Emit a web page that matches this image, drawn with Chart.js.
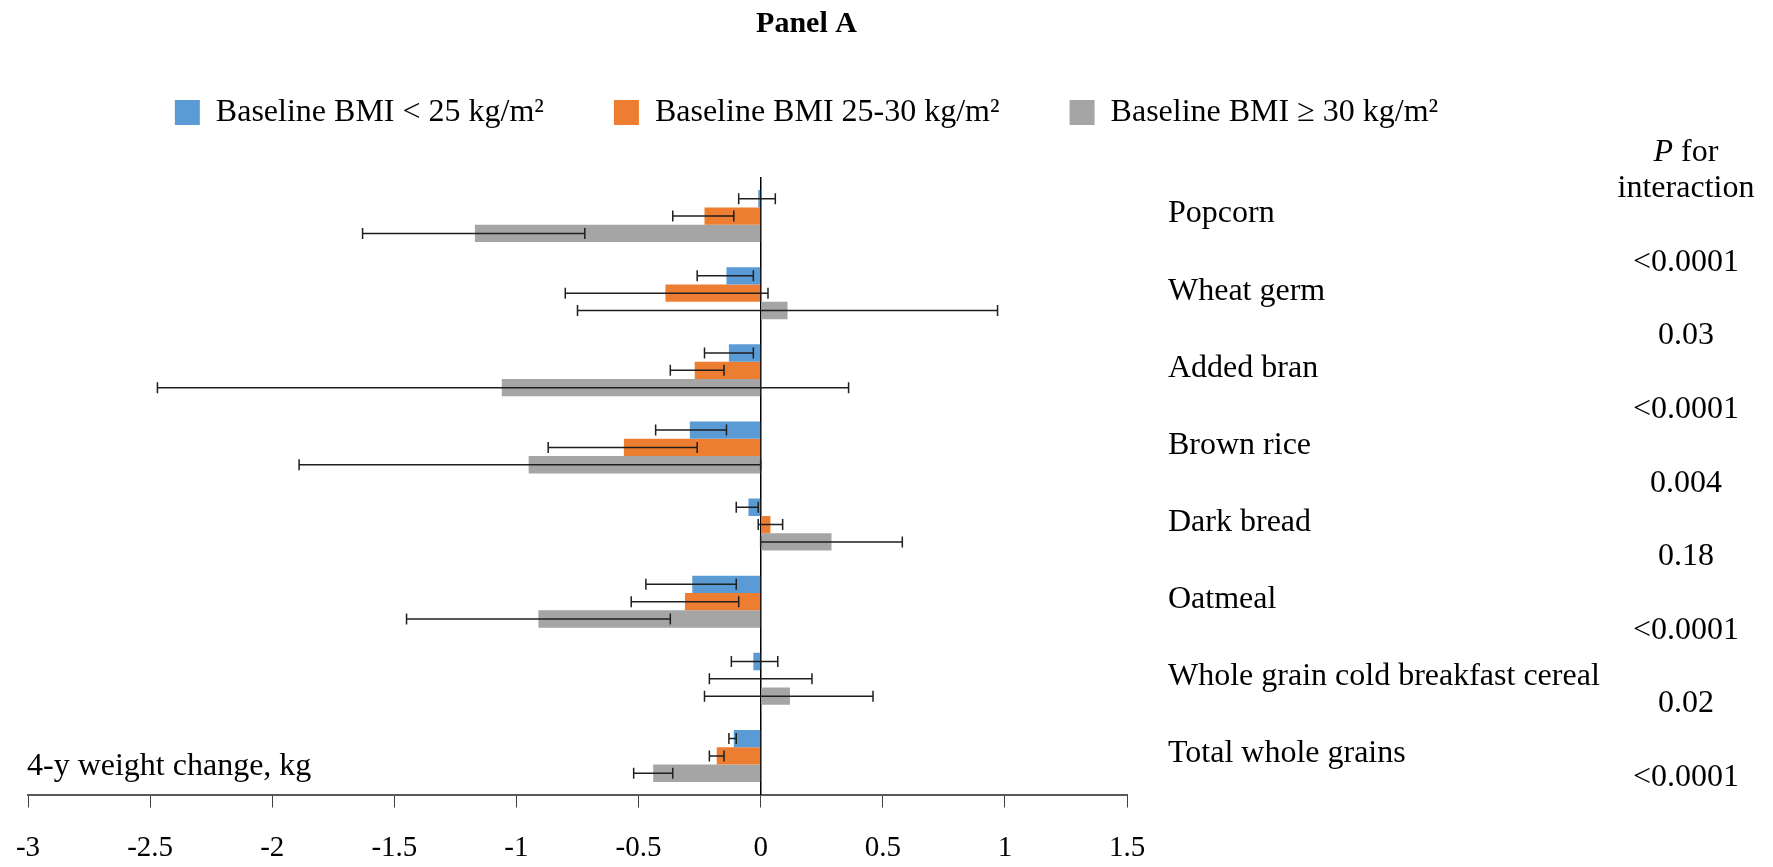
<!DOCTYPE html>
<html>
<head>
<meta charset="utf-8">
<script src="https://cdn.jsdelivr.net/npm/chart.js@4.4.1/dist/chart.umd.min.js"></script>
<style>
  html, body { margin: 0; padding: 0; background: #ffffff; }
  #wrap { width: 1773px; height: 867px; }
</style>
</head>
<body>
<div id="wrap"><canvas id="c" width="1773" height="867"></canvas></div>
<script>
// ---------------- data ----------------
const categories = [
  'Popcorn', 'Wheat germ', 'Added bran', 'Brown rice',
  'Dark bread', 'Oatmeal', 'Whole grain cold breakfast cereal', 'Total whole grains'
];
const seriesLabels = [
  'Baseline BMI < 25 kg/m\u00B2',
  'Baseline BMI 25-30 kg/m\u00B2',
  'Baseline BMI \u2265 30 kg/m\u00B2'
];
// 4-y weight change (kg) and 95% CI per BMI group
const bmiUnder25     = [-0.01, -0.14, -0.13, -0.29, -0.05, -0.28, -0.03, -0.11];
const bmiUnder25Low  = [-0.09, -0.26, -0.23, -0.43, -0.10, -0.47, -0.12, -0.13];
const bmiUnder25High = [ 0.06, -0.03, -0.03, -0.14, -0.01, -0.10,  0.07, -0.10];

const bmi25to30      = [-0.23, -0.39, -0.27, -0.56,  0.04, -0.31,  0.00, -0.18];
const bmi25to30Low   = [-0.36, -0.80, -0.37, -0.87, -0.01, -0.53, -0.21, -0.21];
const bmi25to30High  = [-0.11,  0.03, -0.15, -0.26,  0.09, -0.09,  0.21, -0.15];

const bmiOver30      = [-1.17,  0.11, -1.06, -0.95,  0.29, -0.91,  0.12, -0.44];
const bmiOver30Low   = [-1.63, -0.75, -2.47, -1.89,  0.00, -1.45, -0.23, -0.52];
const bmiOver30High  = [-0.72,  0.97,  0.36,  0.00,  0.58, -0.37,  0.46, -0.36];

const pValues = ['<0.0001', '0.03', '<0.0001', '0.004', '0.18', '<0.0001', '0.02', '<0.0001'];
const xTicks = [-3, -2.5, -2, -1.5, -1, -0.5, 0, 0.5, 1, 1.5];
const xTickLabels = ['-3', '-2.5', '-2', '-1.5', '-1', '-0.5', '0', '0.5', '1', '1.5'];
const titleText = 'Panel A';
const xAxisNote = '4-y weight change, kg';
const pHeaderItalic = 'P';
const pHeaderRest = ' for';
const pHeaderLine2 = 'interaction';

// ---------------- styling ----------------
const SERIF = "'Liberation Serif', 'Times New Roman', serif";
const COLORS = ['#5B9BD5', '#ED7D31', '#A5A5A5'];

const errorBars = {
  id: 'errorBars',
  afterDatasetsDraw(chart) {
    const ctx = chart.ctx;
    const xs = chart.scales.x;
    chart.data.datasets.forEach((ds, d) => {
      const meta = chart.getDatasetMeta(d);
      if (meta.hidden) return;
      meta.data.forEach((bar, i) => {
        const x1 = xs.getPixelForValue(ds.errLow[i]);
        const x2 = xs.getPixelForValue(ds.errHigh[i]);
        const y = bar.y;
        const cap = 5.5;
        ctx.save();
        ctx.strokeStyle = '#1f1f1f';
        ctx.lineWidth = 1.5;
        ctx.beginPath();
        ctx.moveTo(x1, y); ctx.lineTo(x2, y);
        ctx.moveTo(x1, y - cap); ctx.lineTo(x1, y + cap);
        ctx.moveTo(x2, y - cap); ctx.lineTo(x2, y + cap);
        ctx.stroke();
        ctx.restore();
      });
    });
  }
};

const annotations = {
  id: 'annotations',
  afterDraw(chart) {
    const { ctx, chartArea } = chart;
    ctx.save();
    ctx.fillStyle = '#000000';
    // note above the x axis
    ctx.font = '32px ' + SERIF;
    ctx.textAlign = 'left';
    ctx.textBaseline = 'alphabetic';
    ctx.fillText(xAxisNote, chartArea.left - 1, chartArea.bottom - 19.5);

    // P for interaction column
    const cx = chart.width - 87;
    ctx.textBaseline = 'middle';
    ctx.font = 'italic 32px ' + SERIF;
    const wP = ctx.measureText(pHeaderItalic).width;
    ctx.font = '32px ' + SERIF;
    const wF = ctx.measureText(pHeaderRest).width;
    const x0 = cx - (wP + wF) / 2;
    ctx.textAlign = 'left';
    ctx.font = 'italic 32px ' + SERIF;
    ctx.fillText(pHeaderItalic, x0, chartArea.top - 24.5);
    ctx.font = '32px ' + SERIF;
    ctx.fillText(pHeaderRest, x0 + wP, chartArea.top - 24.5);
    ctx.textAlign = 'center';
    ctx.fillText(pHeaderLine2, cx, chartArea.top + 11.5);
    const step = 73.57;
    pValues.forEach((p, k) => {
      ctx.fillText(p, cx, chartArea.top + 85 + k * step);
    });
    ctx.restore();
  }
};

new Chart(document.getElementById('c'), {
  type: 'bar',
  data: {
    labels: categories,
    datasets: [
      { label: seriesLabels[0], data: bmiUnder25, errLow: bmiUnder25Low, errHigh: bmiUnder25High,
        backgroundColor: COLORS[0], borderWidth: 0 },
      { label: seriesLabels[1], data: bmi25to30, errLow: bmi25to30Low, errHigh: bmi25to30High,
        backgroundColor: COLORS[1], borderWidth: 0 },
      { label: seriesLabels[2], data: bmiOver30, errLow: bmiOver30Low, errHigh: bmiOver30High,
        backgroundColor: COLORS[2], borderWidth: 0 }
    ]
  },
  options: {
    responsive: false,
    animation: false,
    events: [],
    indexAxis: 'y',
    datasets: { bar: { barPercentage: 1.0, categoryPercentage: 0.675 } },
    layout: { padding: { left: 0, right: 160, top: 0, bottom: 0 } },
    scales: {
      x: {
        type: 'linear',
        position: 'bottom',
        min: -3,
        max: 1.5,
        afterBuildTicks: (s) => { s.ticks = xTicks.map(v => ({ value: v })); },
        afterFit: (s) => { s.height = 72.5; s.paddingLeft = 28; },
        ticks: {
          font: { family: SERIF, size: 29 },
          color: '#000000',
          padding: 23,
          maxRotation: 0,
          callback: (v, i) => xTickLabels[i]
        },
        grid: { display: true, drawOnChartArea: false, drawTicks: true, tickLength: 13,
                color: '#404040', lineWidth: 1 },
        border: { display: true, color: '#595959', width: 2 }
      },
      y: {
        type: 'category',
        position: { x: 0 },
        offset: true,
        grid: { display: false },
        ticks: { display: false },
        border: { display: true, color: '#000000', width: 1.5 },
        z: 1
      },
      yLabels: {
        type: 'category',
        position: 'right',
        offset: true,
        grid: { display: false, drawTicks: false },
        border: { display: false },
        ticks: {
          font: { family: SERIF, size: 32 },
          color: '#000000',
          padding: 41,
          crossAlign: 'near',
          labelOffset: -2,
          autoSkip: false
        },
        afterFit: (s) => { s.width = 486; }
      }
    },
    plugins: {
      title: {
        display: true,
        text: titleText,
        color: '#000000',
        font: { family: SERIF, size: 30, weight: 'bold', lineHeight: 1.2 },
        padding: { top: 6, bottom: -15.5 }
      },
      legend: {
        display: true,
        position: 'top',
        labels: {
          boxWidth: 25,
          boxHeight: 25,
          padding: 70,
          color: '#000000',
          font: { family: SERIF, size: 32 }
        }
      },
      subtitle: {
        display: true,
        text: '',
        weight: 500,
        font: { size: 10, lineHeight: 1 },
        padding: { top: 29, bottom: 0 }
      },
      tooltip: { enabled: false }
    }
  },
  plugins: [errorBars, annotations]
});
</script>
</body>
</html>
